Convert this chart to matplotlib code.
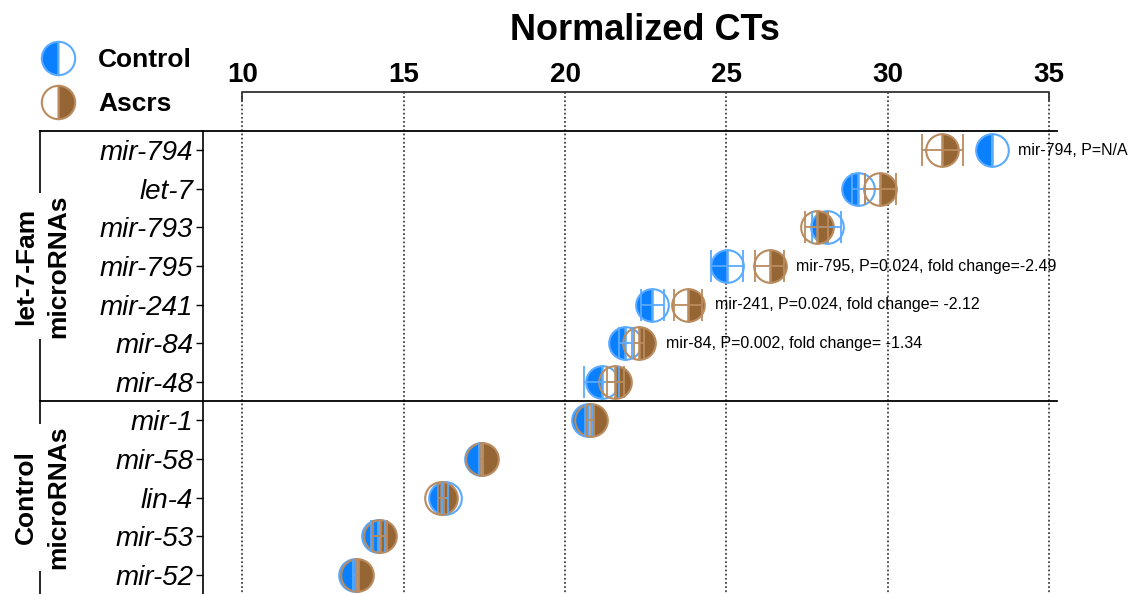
import matplotlib.pyplot as plt
import matplotlib.transforms as mtransforms
from matplotlib.lines import Line2D
import numpy as np

plt.rcParams['font.family'] = ['Liberation Sans', 'DejaVu Sans']

mirnas = ['mir-794', 'let-7', 'mir-793', 'mir-795', 'mir-241', 'mir-84', 'mir-48',
          'mir-1', 'mir-58', 'lin-4', 'mir-53', 'mir-52']
control = [33.22, 29.09, 28.11, 25.01, 22.71, 21.86, 21.13, 20.72, 17.38, 16.28, 14.19, 13.49]
control_err = [0.0, 0.2, 0.45, 0.5, 0.37, 0.2, 0.55, 0.1, 0.05, 0.1, 0.22, 0.05]
ascrs = [31.70, 29.77, 27.80, 26.34, 23.82, 22.30, 21.56, 20.79, 17.42, 16.16, 14.26, 13.56]
ascrs_err = [0.65, 0.48, 0.35, 0.44, 0.43, 0.15, 0.26, 0.1, 0.05, 0.1, 0.22, 0.05]
notes = {'mir-794': 'mir-794, P=N/A',
         'mir-795': 'mir-795, P=0.024, fold change=-2.49',
         'mir-241': 'mir-241, P=0.024, fold change= -2.12',
         'mir-84': 'mir-84, P=0.002, fold change= -1.34'}
groups = [('let-7-Fam\nmicroRNAs', 0, 6), ('Control\nmicroRNAs', 7, 11)]
xticks = [10, 15, 20, 25, 30, 35]

blue = '#0A80FF'
blue_edge = '#5AAAFF'
brown = '#956634'
brown_edge = '#B98B5E'

W, H = 1136, 594
fig = plt.figure(figsize=(W / 100, H / 100), dpi=100)
ax = fig.add_axes([203 / W, 0, (1057 - 203) / W, (594 - 131) / H])

y = np.arange(len(mirnas))
ms = 23.5
ax.plot(control, y, 'o', ms=ms, color=blue, fillstyle='left', markerfacecoloralt='none',
        mec=blue_edge, mew=1.5, zorder=3, clip_on=False)
ax.plot(ascrs, y, 'o', ms=ms, color=brown, fillstyle='right', markerfacecoloralt='none',
        mec=brown_edge, mew=1.5, zorder=4, clip_on=False)
ax.errorbar(control, y, xerr=control_err, fmt='none', ecolor=blue_edge, elinewidth=1.3,
            capsize=11.5, capthick=1.3, zorder=5, clip_on=False)
ax.errorbar(ascrs, y, xerr=ascrs_err, fmt='none', ecolor=brown_edge, elinewidth=1.3,
            capsize=11.5, capthick=1.3, zorder=6, clip_on=False)

for i, name in enumerate(mirnas):
    if name in notes:
        ax.annotate(notes[name], (max(control[i], ascrs[i]), i), xytext=(19, 0),
                    textcoords='offset points', va='center', ha='left', fontsize=11.5)

ax.set_xlim(8.776, 35.25)
ax.set_ylim(11.5, -0.5)

# x axis on top as a bracket
ax.xaxis.tick_top()
ax.set_xticks(xticks)
ax.set_xticklabels([str(t) for t in xticks], fontsize=20, fontweight='bold')
ax.tick_params(axis='x', length=0, pad=31)
ax.plot([xticks[0], xticks[0], xticks[-1], xticks[-1]], [-1.3, -1.51, -1.51, -1.3],
        color='#333333', lw=1.3, clip_on=False)
ax.vlines(xticks, -1.51, 11.5, colors='#444444', linestyles=(0, (1, 1.3)), lw=1.3,
          clip_on=False, zorder=1)

ax.set_yticks(y)
ax.set_yticklabels(mirnas, fontsize=20, fontstyle='italic')
ax.tick_params(axis='y', length=5, width=1, pad=2)
for s in ['top', 'right', 'bottom']:
    ax.spines[s].set_visible(False)
ax.spines['left'].set_linewidth(1.2)

# group separators and bracket
tr = mtransforms.blended_transform_factory(fig.transFigure, ax.transData)
for sep in [-0.5, 6.5]:
    ax.plot([40 / W, 1057 / W], [sep, sep], color='black', lw=1.3, transform=tr, clip_on=False)
ax.plot([40 / W, 40 / W], [-0.5, 11.5], color='black', lw=1.2, transform=tr, clip_on=False)
for label, a, b in groups:
    ax.text(42 / W, (a + b) / 2, label, transform=tr, rotation=90, ha='center', va='center',
            fontsize=19, fontweight='bold', linespacing=1.4,
            bbox=dict(facecolor='white', edgecolor='none', pad=1))

fig.text(645 / W, 1 - 31 / H, 'Normalized CTs', ha='center', va='center',
         fontsize=26, fontweight='bold')

handles = [Line2D([], [], ls='none', marker='o', ms=24, color=blue, fillstyle='left',
                  markerfacecoloralt='white', mec=blue_edge, mew=1.5),
           Line2D([], [], ls='none', marker='o', ms=24, color=brown, fillstyle='right',
                  markerfacecoloralt='white', mec=brown_edge, mew=1.5)]
fig.legend(handles, ['Control', 'Ascrs'], loc='upper left', bbox_to_anchor=(40 / W, 1 - 48 / H),
           frameon=False, prop={'size': 19, 'weight': 'bold'}, handlelength=1.4,
           handletextpad=0.8, labelspacing=0.75, borderaxespad=0, borderpad=0)

fig.savefig('out.png', dpi=100)
